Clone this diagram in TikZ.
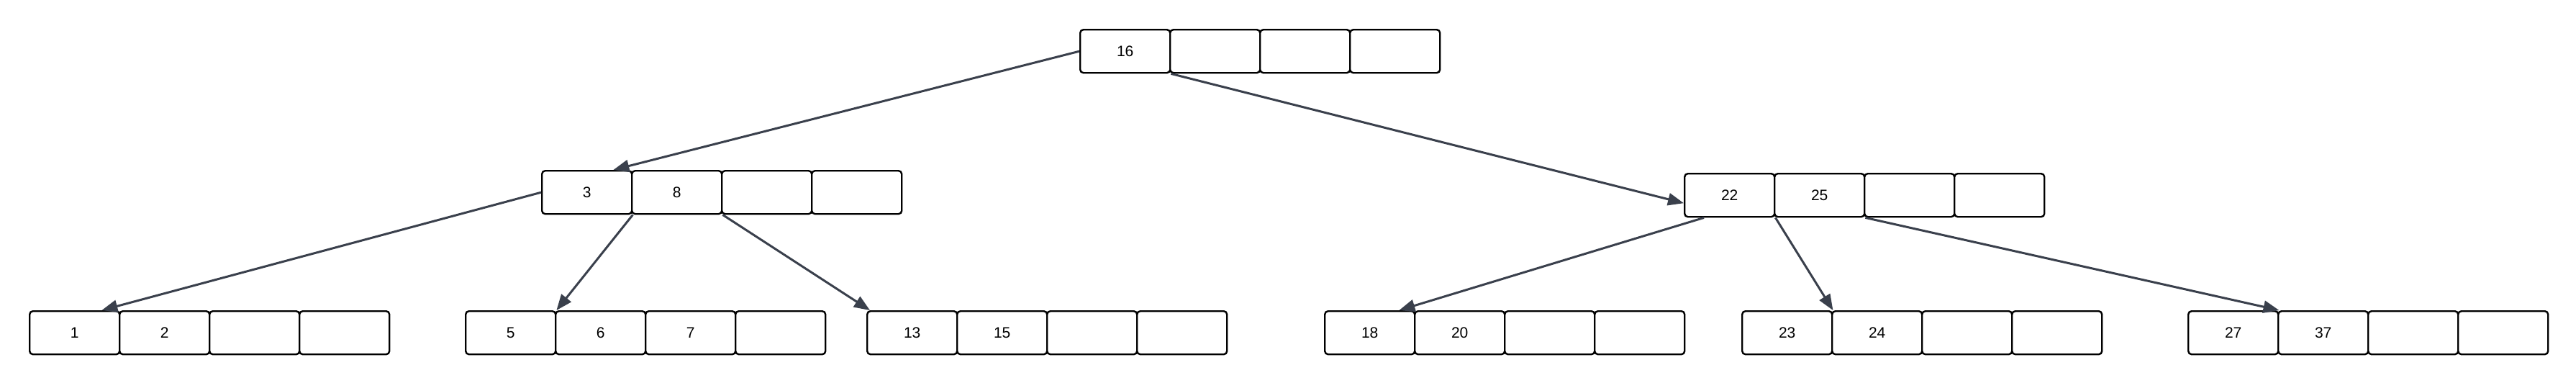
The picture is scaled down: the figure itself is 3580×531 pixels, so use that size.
\documentclass[tikz,border=0pt]{standalone}
\usepackage{fontspec}
\setmainfont{Liberation Sans}
\usetikzlibrary{arrows.meta}
\definecolor{edgecol}{RGB}{58,64,76}
\tikzset{
  cell/.style={draw=black, line width=2.4pt, rounded corners=4.5pt, fill=white,
    minimum width=125pt, minimum height=60pt, inner sep=0pt, anchor=north west,
    font=\fontsize{21pt}{25pt}\selectfont},
  edge/.style={draw=edgecol, line width=3pt, -{Triangle[length=22pt,width=17pt]}}
}
\newcommand\btreenode[7]{%
  \node[cell] (#1-1) at (#2pt,-#3pt) {#4};
  \node[cell] (#1-2) at (#2pt+125pt,-#3pt) {#5};
  \node[cell] (#1-3) at (#2pt+250pt,-#3pt) {#6};
  \node[cell] (#1-4) at (#2pt+375pt,-#3pt) {#7};
}
\begin{document}
\begin{tikzpicture}
\useasboundingbox[fill=white] (0pt,0pt) rectangle (3580pt,-531pt);
\btreenode{root}{1500}{40}{16}{}{}{}
\btreenode{la}{752}{236}{3}{8}{}{}
\btreenode{lb}{2340}{240}{22}{25}{}{}
\btreenode{fa}{40}{431}{1}{2}{}{}
\btreenode{fb}{646}{431}{5}{6}{7}{}
\btreenode{fc}{1204}{431}{13}{15}{}{}
\btreenode{fd}{1840}{431}{18}{20}{}{}
\btreenode{fe}{2420}{431}{23}{24}{}{}
\btreenode{ff}{3040}{431}{27}{37}{}{}
\draw[edge] (root-1.west) -- ([xshift=-27pt]la-1.north east);
\draw[edge] (root-1.south east) -- ([yshift=-11pt]lb-1.west);
\draw[edge] (la-1.west) -- ([xshift=-26pt]fa-1.north east);
\draw[edge] (la-1.south east) -- (fb-1.north east);
\draw[edge] (la-2.south east) -- ([xshift=5pt]fc-1.north west);
\draw[edge] ([xshift=28pt]lb-1.south west) -- ([xshift=-23pt]fd-1.north east);
\draw[edge] (lb-1.south east) -- (fe-1.north east);
\draw[edge] (lb-2.south east) -- (ff-1.north east);
\end{tikzpicture}
\end{document}
